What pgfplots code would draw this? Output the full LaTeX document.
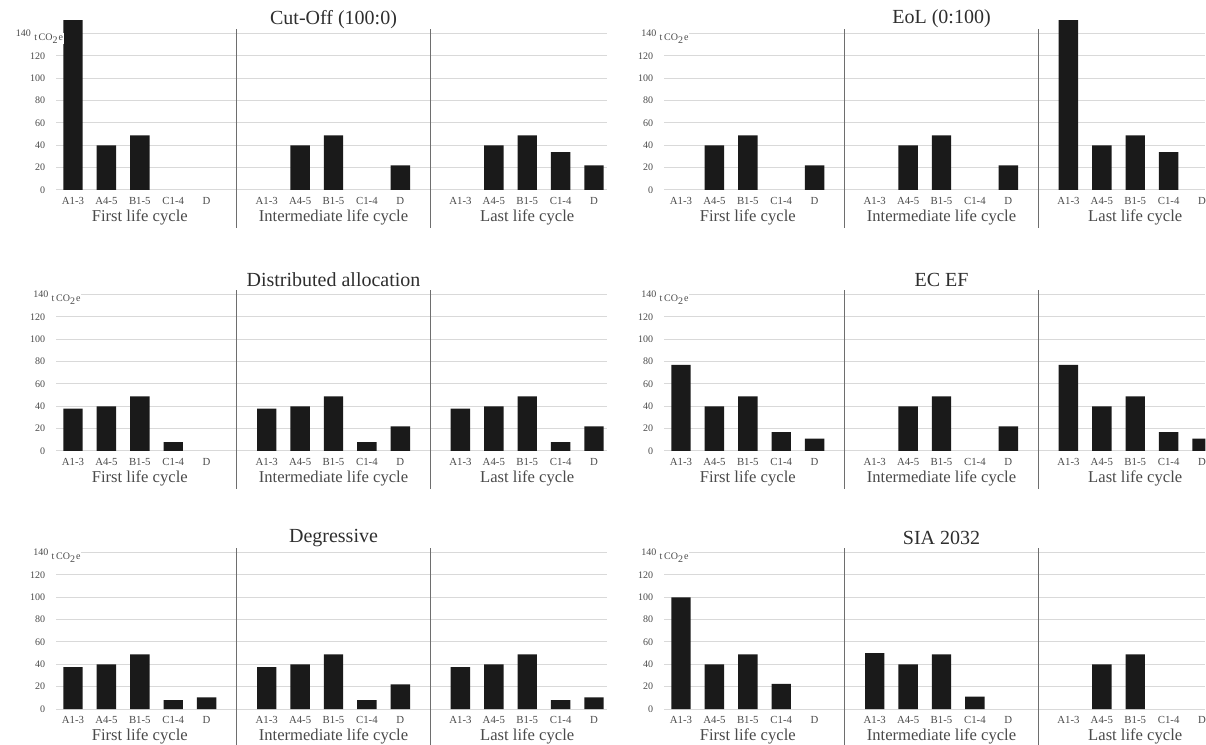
\documentclass[border=0pt]{standalone}
\usepackage{fontspec}
\setmainfont{Liberation Serif}
\usepackage{pgfplots}
\pgfplotsset{compat=1.18}
\definecolor{barc}{HTML}{1A1A1A}
\definecolor{gridc}{HTML}{D9D9D9}
\definecolor{sepc}{HTML}{6E6E6E}
\definecolor{textc}{HTML}{4A4A4A}
\definecolor{titlec}{HTML}{2E2E2E}
\pgfplotsset{panelstyle/.style={
  anchor=south west, x=16.7pt, y=0.5585pt,
  xmin=-0.5, ymin=0, ymax=156,
  axis x line*=bottom, axis y line*=left, axis line style={draw=none},
  major tick length=0pt, clip mode=individual,
  ybar, bar width=9.7pt,
  ytick={0,20,...,140}, yticklabels={0,20,40,60,80,100,120,{}},
  ymajorgrids, grid style={gridc, line width=0.5pt},
  xtick={0,1,2,3,4,5.8,6.8,7.8,8.8,9.8,11.6,12.6,13.6,14.6,15.6},
  xticklabels={A1-3,A4-5,B1-5,C1-4,D,A1-3,A4-5,B1-5,C1-4,D,A1-3,A4-5,B1-5,C1-4,D},
  x tick label style={font=\fontsize{5.4}{6}\selectfont, text=textc},
  y tick label style={font=\fontsize{5}{6}\selectfont, text=textc, xshift=-2pt},
}}
\newcommand{\panel}[6]{%
\begin{axis}[panelstyle, at={(#1,#2)}, xmax=#3]
\addplot[fill=barc, draw=none] coordinates {#5};
\draw[sepc, line width=0.6pt] (axis cs:4.9,-34) -- (axis cs:4.9,144);
\draw[sepc, line width=0.6pt] (axis cs:10.7,-34) -- (axis cs:10.7,144);
\node[font=\fontsize{10}{12}\selectfont, text=titlec] at (axis cs:7.8,153) {#4};
\node[font=\fontsize{8.3}{10}\selectfont, text=textc] at (axis cs:2,-25) {First life cycle};
\node[font=\fontsize{8.3}{10}\selectfont, text=textc] at (axis cs:7.8,-25) {Intermediate life cycle};
\node[font=\fontsize{8.3}{10}\selectfont, text=textc] at (axis cs:13.6,-25) {Last life cycle};
\node[anchor=east, inner sep=0pt, font=\fontsize{5}{6}\selectfont, text=textc] at ([xshift=#6]axis cs:-0.5,140) {140};
\node[anchor=west, inner sep=0.3pt, fill=white, font=\fontsize{5}{6}\selectfont, text=textc] at ([xshift=#6+1pt, yshift=-2.5pt]axis cs:-0.5,140) {t\,CO\textsubscript{2}e};
\end{axis}}
\begin{document}
\begin{tikzpicture}
\panel{28.15pt}{277.5pt}{16}{Cut-Off (100:0)}{(0,152) (1,40) (2,49) (6.8,40) (7.8,49) (9.8,22) (12.6,40) (13.6,49) (14.6,34) (15.6,22)}{-12.5pt}
\panel{332.15pt}{277.5pt}{15.7}{EoL (0:100)}{(1,40) (2,49) (4,22) (6.8,40) (7.8,49) (9.8,22) (11.6,152) (12.6,40) (13.6,49) (14.6,34)}{-3.8pt}
\panel{28.15pt}{147pt}{16}{Distributed allocation}{(0,38) (1,40) (2,49) (3,8) (5.8,38) (6.8,40) (7.8,49) (8.8,8) (9.8,22) (11.6,38) (12.6,40) (13.6,49) (14.6,8) (15.6,22)}{-3.8pt}
\panel{332.15pt}{147pt}{15.7}{EC EF}{(0,77) (1,40) (2,49) (3,17) (4,11) (6.8,40) (7.8,49) (9.8,22) (11.6,77) (12.6,40) (13.6,49) (14.6,17) (15.6,11)}{-3.8pt}
\panel{28.15pt}{18pt}{16}{Degressive}{(0,37.5) (1,40) (2,49) (3,8) (4,10.5) (5.8,37.5) (6.8,40) (7.8,49) (8.8,8) (9.8,22) (11.6,37.5) (12.6,40) (13.6,49) (14.6,8) (15.6,10.5)}{-3.8pt}
\panel{332.15pt}{18pt}{15.7}{SIA 2032}{(0,100) (1,40) (2,49) (3,22.5) (5.8,50) (6.8,40) (7.8,49) (8.8,11) (12.6,40) (13.6,49)}{-3.8pt}
\pgfresetboundingbox
\path[use as bounding box] (0,0) rectangle (603pt,372.5pt);
\end{tikzpicture}
\end{document}
